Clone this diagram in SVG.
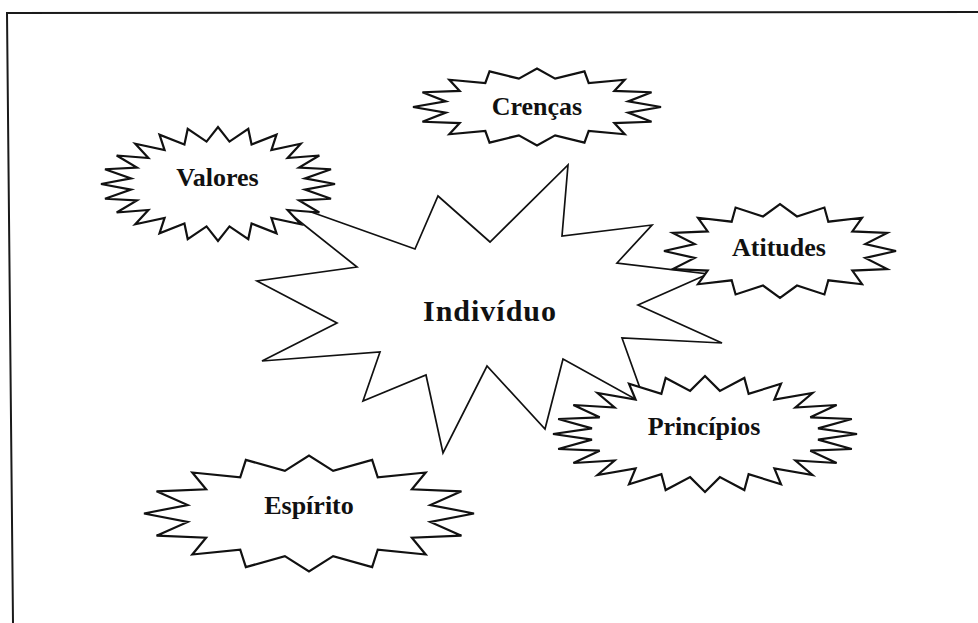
<svg xmlns="http://www.w3.org/2000/svg" xmlns:xlink="http://www.w3.org/1999/xlink" width="978" height="623" viewBox="0 0 978 623">
  <style>
    .frame { fill: none; stroke: #1a1a1a; stroke-width: 2; }
    .burst { fill: #ffffff; stroke: #111111; stroke-width: 2.2; stroke-linejoin: miter; vector-effect: non-scaling-stroke; }
    .core { fill: #ffffff; stroke: #111111; stroke-width: 1.7; stroke-linejoin: miter; }
    .label { font-family: "Liberation Serif", "Times New Roman", serif; font-weight: bold; font-size: 26px; fill: #111111; text-anchor: middle; }
    .title { font-size: 30px; letter-spacing: 1px; }
  </style>
  <defs>
    <!-- 16-point star, unit radius, inner radius 0.75 -->
    <polygon id="star16" class="burst" points="1,0 0.7356,0.1463 0.9239,0.3827 0.6236,0.4167 0.7071,0.7071 0.4167,0.6236 0.3827,0.9239 0.1463,0.7356 0,1 -0.1463,0.7356 -0.3827,0.9239 -0.4167,0.6236 -0.7071,0.7071 -0.6236,0.4167 -0.9239,0.3827 -0.7356,0.1463 -1,0 -0.7356,-0.1463 -0.9239,-0.3827 -0.6236,-0.4167 -0.7071,-0.7071 -0.4167,-0.6236 -0.3827,-0.9239 -0.1463,-0.7356 0,-1 0.1463,-0.7356 0.3827,-0.9239 0.4167,-0.6236 0.7071,-0.7071 0.6236,-0.4167 0.9239,-0.3827 0.7356,-0.1463"/>
    <!-- 24-point star, unit radius, inner radius 0.75 -->
    <polygon id="star24" class="burst" points="1,0 0.7436,0.0979 0.9659,0.2588 0.6929,0.2870 0.8660,0.5 0.5950,0.4566 0.7071,0.7071 0.4566,0.5950 0.5,0.8660 0.2870,0.6929 0.2588,0.9659 0.0979,0.7436 0,1 -0.0979,0.7436 -0.2588,0.9659 -0.2870,0.6929 -0.5,0.8660 -0.4566,0.5950 -0.7071,0.7071 -0.5950,0.4566 -0.8660,0.5 -0.6929,0.2870 -0.9659,0.2588 -0.7436,0.0979 -1,0 -0.7436,-0.0979 -0.9659,-0.2588 -0.6929,-0.2870 -0.8660,-0.5 -0.5950,-0.4566 -0.7071,-0.7071 -0.4566,-0.5950 -0.5,-0.8660 -0.2870,-0.6929 -0.2588,-0.9659 -0.0979,-0.7436 0,-1 0.0979,-0.7436 0.2588,-0.9659 0.2870,-0.6929 0.5,-0.8660 0.4566,-0.5950 0.7071,-0.7071 0.5950,-0.4566 0.8660,-0.5 0.6929,-0.2870 0.9659,-0.2588 0.7436,-0.0979"/>
  </defs>

  <rect width="978" height="623" fill="#ffffff"/>
  <polyline class="frame" points="13,623 7,13 978,12"/>

  <!-- no separate connectors: the bursts touch and overlap directly -->
  <g id="connectors"></g>

  <g id="individuo">
    <polygon class="core" points="269,197 415,249 438,196 490,242 568,165 562,236 652,225 617,263 708,274 638,305 722,343 622,338 646,405 563,359 545,429 487,366 443,453 426,375 363,401 380,352 262,361 337,323 257,281 357,267"/>
    <text class="label title" x="490" y="321">Indivíduo</text>
  </g>

  <g id="valores">
    <use xlink:href="#star24" transform="translate(218,184) scale(117,57)"/>
    <text class="label" x="217.5" y="186">Valores</text>
  </g>

  <g id="crencas">
    <use xlink:href="#star16" transform="translate(537,107) scale(124,38.5)"/>
    <text class="label" x="537" y="115">Crenças</text>
  </g>

  <g id="atitudes">
    <use xlink:href="#star16" transform="translate(780,251) scale(116,47)"/>
    <text class="label" x="779" y="256">Atitudes</text>
  </g>

  <g id="principios">
    <use xlink:href="#star24" transform="translate(705,434) scale(152,58)"/>
    <text class="label" x="704" y="435">Princípios</text>
  </g>

  <g id="espirito">
    <use xlink:href="#star16" transform="translate(309,513.5) scale(165,58)"/>
    <text class="label" x="309" y="514">Espírito</text>
  </g>
</svg>
